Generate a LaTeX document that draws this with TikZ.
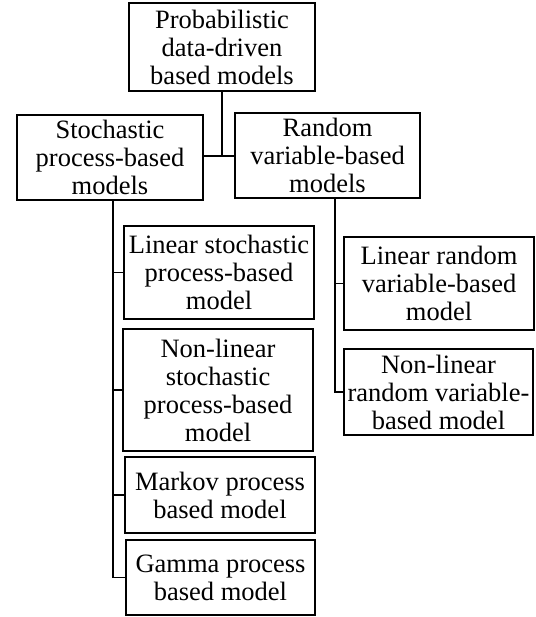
\documentclass[tikz,border=0pt]{standalone}
\usepackage{fontspec}
\setmainfont{Liberation Serif}
\begin{document}
\begin{tikzpicture}[x=1pt,y=-1pt,
  box/.style={draw, line width=1.8pt, inner sep=0pt, align=center,
    font=\fontsize{26.5}{28}\selectfont},
  link/.style={line width=1.8pt}]
\useasboundingbox (0,0) rectangle (535,617);

% top level
\node[box, minimum width=186, minimum height=88] (top) at (222,47)
  {Probabilistic\\data-driven\\based models};

% second level
\node[box, minimum width=186, minimum height=85] (stoch) at (110,157.5)
  {Stochastic\\process-based\\models};
\node[box, minimum width=185, minimum height=85] (rand) at (327.5,155.5)
  {Random\\variable-based\\models};

% stochastic process branch
\node[box, minimum width=190, minimum height=93] (ls) at (219,272.5)
  {Linear stochastic\\process-based\\model};
\node[box, minimum width=190, minimum height=122] (ns) at (218,390)
  {Non-linear\\stochastic\\process-based\\model};
\node[box, minimum width=190, minimum height=76] (mk) at (220,495)
  {Markov process\\based model};
\node[box, minimum width=189, minimum height=75] (gm) at (220.5,577.5)
  {Gamma process\\based model};

% random variable branch
\node[box, minimum width=190, minimum height=93] (lr) at (439,283.5)
  {Linear random\\variable-based\\model};
\node[box, minimum width=189, minimum height=86] (nr) at (438.5,392)
  {Non-linear\\random variable-\\based model};

% connectors
\coordinate (j) at (222,156);
\draw[link] (top.south) -- (j);
\draw[link] (stoch.east |- j) -- (rand.west |- j);

\coordinate (st) at (113,0);
\draw[link] (st |- stoch.south) |- (gm.west);
\foreach \c in {ls,ns,mk}
  \draw[link] (st |- \c.west) -- (\c.west);

\coordinate (rt) at (335,0);
\draw[link] (rt |- rand.south) |- (nr.west);
\draw[link] (rt |- lr.west) -- (lr.west);
\end{tikzpicture}
\end{document}
